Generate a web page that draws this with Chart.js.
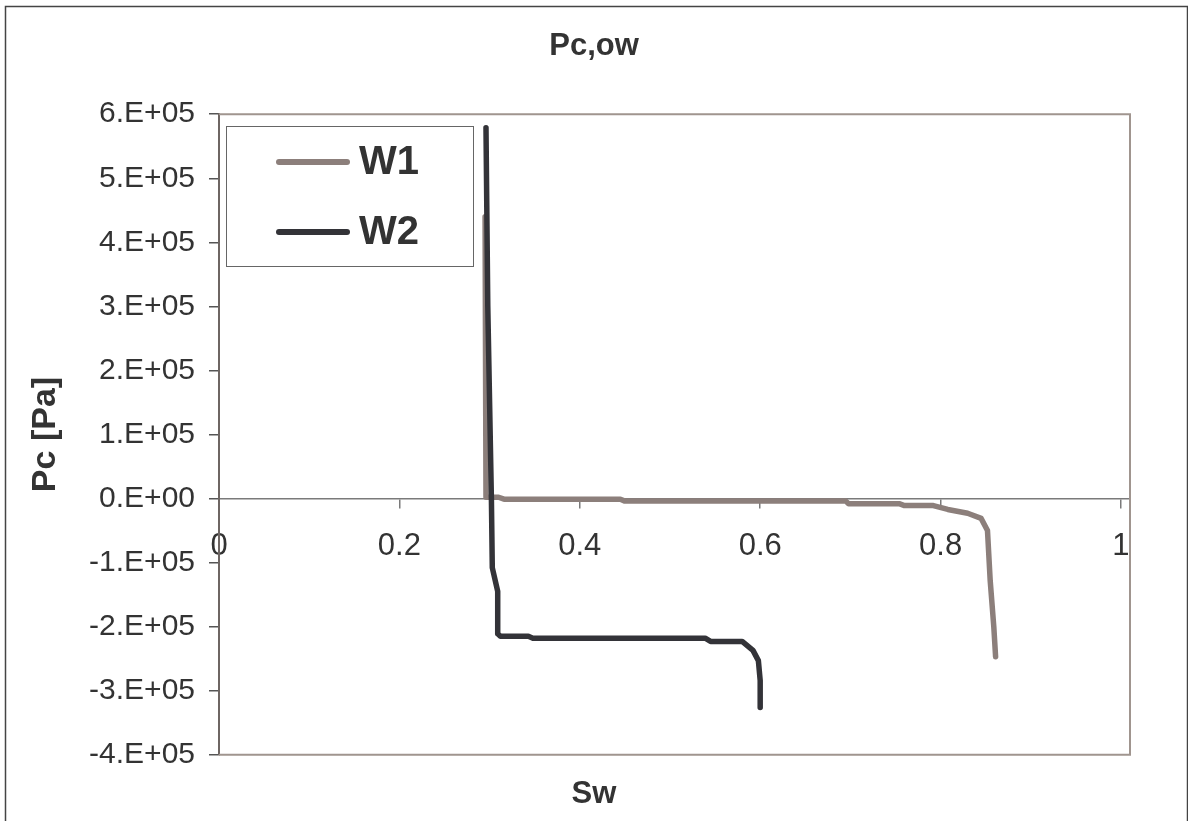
<!DOCTYPE html>
<html>
<head>
<meta charset="utf-8">
<title>Pc,ow</title>
<script src="https://cdn.jsdelivr.net/npm/chart.js@4/dist/chart.umd.min.js"></script>
<style>
  html, body { margin: 0; padding: 0; background: #fff; }
  #wrap { width: 1188px; height: 821px; position: relative; }
</style>
</head>
<body>
<div id="wrap"><canvas id="pcChart"></canvas></div>
<script>
// courbes de pression capillaire (Sw, Pc en Pa)
const w1Sw = [0.295, 0.296, 0.310, 0.316, 0.445, 0.450, 0.695, 0.698, 0.754, 0.760, 0.792, 0.808, 0.830, 0.845, 0.852, 0.855, 0.859, 0.861];
const w1Pc = [440000, 2000, 2000, -1000, -1000, -4000, -4000, -8000, -8000, -11000, -11000, -17000, -23000, -31000, -50000, -128000, -200000, -247000];

const w2Sw = [0.296, 0.298, 0.302, 0.303, 0.309, 0.309, 0.312, 0.343, 0.348, 0.539, 0.545, 0.580, 0.592, 0.598, 0.600, 0.600];
const w2Pc = [579000, 300000, 0, -108000, -145000, -211000, -215000, -215000, -218000, -218000, -223000, -223000, -237000, -253000, -284000, -326000];

const xTicks = [0, 0.2, 0.4, 0.6, 0.8, 1];
const seriesNames = ["W1", "W2"];
const seriesColors = ["#8c7f7b", "#333338"];

const TXT = "#333333";
const FONT = "'Liberation Sans', Arial, sans-serif";

function points(xs, ys) {
  return xs.map((x, i) => ({ x: x, y: ys[i] }));
}

function yLabel(v) {
  if (v === 0) return "0.E+00";
  return (v / 1e5) + ".E+05";
}

// cadre extérieur + cadre de la zone de tracé + légende
const decor = {
  id: "decor",
  beforeDraw(chart) {
    const c = chart.ctx;
    c.save();
    c.fillStyle = "#fff";
    c.fillRect(0, 0, chart.width, chart.height);
    c.strokeStyle = "#444";
    c.lineWidth = 1.5;
    c.strokeRect(5.5, 6.5, chart.width - 6, chart.height - 5);
    c.restore();
  },
  afterDatasetsDraw(chart) {
    const a = chart.chartArea;
    const c = chart.ctx;
    c.save();
    c.strokeStyle = "#a0958f";
    c.lineWidth = 2;
    c.beginPath();
    c.moveTo(a.left, a.top);
    c.lineTo(a.right, a.top);
    c.lineTo(a.right, a.bottom);
    c.lineTo(a.left, a.bottom);
    c.stroke();

    // légende
    const lx = 226, ly = 126, lw = 247, lh = 140;
    c.fillStyle = "#fff";
    c.fillRect(lx, ly, lw, lh);
    c.strokeStyle = "#666";
    c.lineWidth = 1;
    c.strokeRect(lx + 0.5, ly + 0.5, lw, lh);
    c.font = "bold 40px " + FONT;
    c.textBaseline = "middle";
    c.textAlign = "left";
    c.lineCap = "round";
    chart.data.datasets.forEach((ds, i) => {
      const y = 162 + i * 70;
      c.strokeStyle = ds.borderColor;
      c.lineWidth = 6;
      c.beginPath();
      c.moveTo(279, y);
      c.lineTo(347, y);
      c.stroke();
      c.fillStyle = TXT;
      c.fillText(ds.label, 359, y + 1);
    });
    c.restore();
  }
};

new Chart(document.getElementById("pcChart"), {
  type: "scatter",
  data: {
    datasets: [
      {
        label: seriesNames[0],
        data: points(w1Sw, w1Pc),
        borderColor: seriesColors[0],
        backgroundColor: seriesColors[0],
        order: 2
      },
      {
        label: seriesNames[1],
        data: points(w2Sw, w2Pc),
        borderColor: seriesColors[1],
        backgroundColor: seriesColors[1],
        order: 1
      }
    ]
  },
  options: {
    responsive: true,
    maintainAspectRatio: false,
    animation: false,
    datasets: {
      scatter: {
        showLine: true,
        borderWidth: 5.5,
        pointRadius: 0,
        pointHoverRadius: 0,
        tension: 0,
        borderCapStyle: "round",
        borderJoinStyle: "round"
      }
    },
    layout: { padding: 0 },
    plugins: {
      legend: { display: false },
      tooltip: { enabled: false },
      title: {
        display: true,
        text: "Pc,ow",
        color: TXT,
        font: { family: FONT, size: 31, weight: "bold" },
        padding: { top: 28, bottom: 49 }
      },
      subtitle: {
        display: true,
        position: "bottom",
        text: "Sw",
        color: TXT,
        font: { family: FONT, size: 31, weight: "bold" },
        padding: { top: 21, bottom: 8 }
      }
    },
    scales: {
      x: {
        type: "linear",
        position: { y: 0 },
        min: 0,
        max: 1.01,
        afterBuildTicks(scale) {
          scale.ticks = xTicks.map((v) => ({ value: v }));
        },
        border: { display: true, color: "#7a7a7a", width: 1.5 },
        grid: { display: true, drawOnChartArea: false, drawTicks: true, tickLength: 9, color: "#7a7a7a", lineWidth: 1.5 },
        ticks: {
          color: TXT,
          padding: 20,
          maxRotation: 0,
          autoSkip: false,
          font: { family: FONT, size: 31 },
          callback: (v) => String(v)
        }
      },
      y: {
        type: "linear",
        position: "left",
        min: -400000,
        max: 600000,
        afterFit(scale) { scale.width = 219; },
        border: { display: true, color: "#6e6663", width: 2 },
        grid: { display: true, drawOnChartArea: false, drawTicks: true, tickLength: 10, color: "#555", lineWidth: 1.5 },
        ticks: {
          stepSize: 100000,
          color: TXT,
          padding: 14,
          font: { family: FONT, size: 30 },
          callback: (v) => yLabel(v)
        },
        title: {
          display: true,
          text: "Pc [Pa]",
          color: TXT,
          font: { family: FONT, size: 34, weight: "bold" },
          padding: { top: 25, bottom: 0 }
        }
      },
      // marge droite de la zone de tracé
      yRight: {
        type: "linear",
        position: "right",
        min: -400000,
        max: 600000,
        afterFit(scale) { scale.width = 58; },
        border: { display: false },
        grid: { display: false, drawTicks: false },
        ticks: { display: false }
      }
    }
  },
  plugins: [decor]
});
</script>
</body>
</html>
